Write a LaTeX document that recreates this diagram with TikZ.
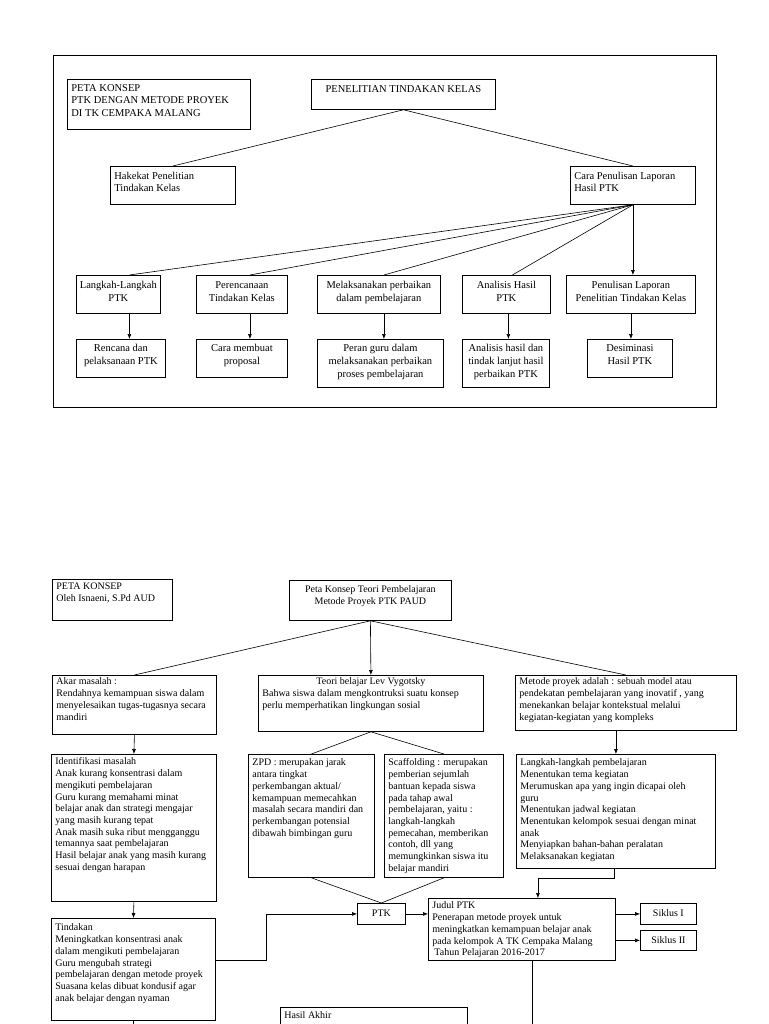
\documentclass[tikz,border=0pt]{standalone}
\usepackage{fontspec}
\setmainfont{Liberation Serif}
\usetikzlibrary{arrows.meta}
\hyphenpenalty=10000
\exhyphenpenalty=10000
\newcommand{\boxtext}[4]{\parbox[t][#2][t]{#1}{\rule{0pt}{#3}#4}}

\begin{document}
\begin{tikzpicture}[x=1pt, y=-1pt,
    box/.style={draw, line width=0.8pt, anchor=north west, inner xsep=4pt, inner ysep=0pt},
    cbox/.style={box, inner xsep=2pt},
    toptext/.style={font=\fontsize{10.5}{12.5}\selectfont},
    rowtext/.style={font=\fontsize{10.5}{13}\selectfont},
    bottext/.style={font=\fontsize{10}{11.7}\selectfont},
    conn/.style={line width=0.6pt},
    arr/.style={conn, -{Latex[length=5pt,width=4pt]}}]
  \useasboundingbox (0,0) rectangle (768,1024);
  \fill[white] (0,0) rectangle (768,1024);
  \clip (0,0) rectangle (768,1024);
  \coordinate (bottom) at (0,1030);

  % peta konsep 1
  \draw[line width=1pt] (53,56) rectangle (716,407);
  \node[box, toptext] (peta) at (67,79) {\boxtext{175pt}{50pt}{12pt}{PETA KONSEP\\PTK DENGAN METODE PROYEK\\DI TK CEMPAKA MALANG}};
  \node[cbox, toptext] (ptk) at (311,79) {\boxtext{180pt}{30pt}{13pt}{\centering PENELITIAN TINDAKAN KELAS}};
  \node[box, toptext] (hakekat) at (110,166) {\boxtext{117pt}{38pt}{13pt}{Hakekat Penelitian\\Tindakan Kelas}};
  \node[box, toptext] (cara) at (570,166) {\boxtext{117pt}{38pt}{13pt}{Cara Penulisan Laporan\\Hasil PTK}};

  \node[cbox, rowtext] (langkah) at (76,275) {\boxtext{80pt}{38pt}{13.5pt}{\centering Langkah-Langkah\\PTK}};
  \node[cbox, rowtext] (perenc) at (196,275) {\boxtext{87pt}{38pt}{13.5pt}{\centering Perencanaan\\Tindakan Kelas}};
  \node[cbox, rowtext] (laksana) at (317,275) {\boxtext{119pt}{38pt}{13.5pt}{\centering Melaksanakan perbaikan\\dalam pembelajaran}};
  \node[cbox, rowtext] (analisis) at (462,275) {\boxtext{84pt}{38pt}{13.5pt}{\centering Analisis Hasil\\PTK}};
  \node[cbox, rowtext] (tulis) at (566,275) {\boxtext{125pt}{38pt}{13.5pt}{\centering Penulisan Laporan\\Penelitian Tindakan Kelas}};

  \node[cbox, rowtext] (rencana) at (76,339) {\boxtext{85pt}{38pt}{12.5pt}{\centering Rencana dan\\pelaksanaan PTK}};
  \node[cbox, rowtext] (proposal) at (196,339) {\boxtext{87pt}{38pt}{12.5pt}{\centering Cara membuat\\proposal}};
  \node[cbox, rowtext] (peran) at (317,339) {\boxtext{122pt}{48pt}{12.5pt}{\centering Peran guru dalam\\melaksanakan perbaikan\\proses pembelajaran}};
  \node[cbox, rowtext] (lanjut) at (462,339) {\boxtext{83pt}{48pt}{12.5pt}{\centering Analisis hasil dan\\tindak lanjut hasil\\perbaikan PTK}};
  \node[cbox, rowtext] (desim) at (587,339) {\boxtext{81pt}{38pt}{12.5pt}{\centering Desiminasi\\Hasil PTK}};

  \draw[conn] (ptk.south) -- (hakekat.north);
  \draw[conn] (ptk.south) -- (cara.north);
  \draw[conn] (cara.south) -- ([xshift=11pt]langkah.north);
  \draw[conn] (cara.south) -- ([xshift=8pt]perenc.north);
  \draw[conn] (cara.south) -- ([xshift=5pt]laksana.north);
  \draw[conn] (cara.south) -- ([xshift=6pt]analisis.north);
  \draw[arr] (cara.south) -- (cara.south |- tulis.north);
  \draw[arr] ([xshift=11pt]langkah.south) -- ([xshift=11pt]langkah.south |- rencana.north);
  \draw[arr] ([xshift=8pt]perenc.south) -- ([xshift=8pt]perenc.south |- proposal.north);
  \draw[arr] ([xshift=5pt]laksana.south) -- ([xshift=5pt]laksana.south |- peran.north);
  \draw[arr] ([xshift=2pt]analisis.south) -- ([xshift=2pt]analisis.south |- lanjut.north);
  \draw[arr] (tulis.south) -- (tulis.south |- desim.north);

  % peta konsep 2
  \node[box, bottext] (petab) at (52,579) {\boxtext{112pt}{41pt}{10.5pt}{PETA KONSEP\\Oleh Isnaeni, S.Pd AUD}};
  \node[cbox, bottext] (teori) at (289,580) {\boxtext{158pt}{40pt}{12.5pt}{\centering Peta Konsep Teori Pembelajaran\\Metode Proyek PTK PAUD}};
  \node[box, bottext] (akar) at (52,675) {\boxtext{156pt}{59pt}{9.5pt}{Akar masalah :\\Rendahnya kemampuan siswa dalam\\menyelesaikan tugas-tugasnya secara\\mandiri}};
  \node[box, bottext] (vygotsky) at (258,675) {\boxtext{217pt}{56pt}{9.5pt}{\hfill Teori belajar Lev Vygotsky\hfill\null\\Bahwa siswa dalam mengkontruksi suatu konsep\\perlu memperhatikan lingkungan sosial}};
  \node[box, bottext] (metode) at (515,675) {\boxtext{213pt}{55pt}{9.5pt}{Metode proyek adalah : sebuah model atau\\pendekatan pembelajaran yang inovatif , yang\\menekankan belajar kontekstual melalui\\kegiatan-kegiatan yang kompleks}};

  \node[box, bottext] (identifikasi) at (51,754) {\boxtext{157pt}{147pt}{10.5pt}{Identifikasi masalah\\Anak kurang konsentrasi dalam\\mengikuti pembelajaran\\Guru kurang memahami minat\\belajar anak dan strategi mengajar\\yang masih kurang tepat\\Anak masih suka ribut mengganggu\\temannya saat pembelajaran\\Hasil belajar anak yang masih kurang\\sesuai dengan harapan}};
  \node[box, bottext] (zpd) at (248,754) {\boxtext{118pt}{123pt}{11.5pt}{ZPD : merupakan jarak\\antara tingkat\\perkembangan aktual/\\kemampuan memecahkan\\masalah secara mandiri dan\\perkembangan potensial\\dibawah bimbingan guru}};
  \node[box, bottext] (scaffolding) at (384,754) {\boxtext{111pt}{123pt}{11.5pt}{Scaffolding : merupakan\\pemberian sejumlah\\bantuan kepada siswa\\pada tahap awal\\pembelajaran, yaitu :\\langkah-langkah\\pemecahan, memberikan\\contoh, dll yang\\memungkinkan siswa itu\\belajar mandiri}};
  \node[box, bottext] (langkahb) at (516,754) {\boxtext{191pt}{114pt}{11.5pt}{Langkah-langkah pembelajaran\\Menentukan tema kegiatan\\Merumuskan apa yang ingin dicapai oleh\\guru\\Menentukan jadwal kegiatan\\Menentukan kelompok sesuai dengan minat\\anak\\Menyiapkan bahan-bahan peralatan\\Melaksanakan kegiatan}};

  \node[cbox, bottext] (ptkb) at (357,903) {\boxtext{44pt}{21pt}{13.5pt}{\centering PTK}};
  \node[box, bottext] (judul) at (428,898) {\boxtext{179pt}{62pt}{10.5pt}{Judul PTK\\Penerapan metode proyek untuk\\meningkatkan kemampuan belajar anak\\pada kelompok A TK Cempaka Malang\\\hspace*{2pt}Tahun Pelajaran 2016-2017}};
  \node[cbox, bottext] (siklus1) at (640,903) {\boxtext{52pt}{21pt}{13.5pt}{\centering Siklus I}};
  \node[cbox, bottext] (siklus2) at (640,930) {\boxtext{52pt}{20pt}{13pt}{\centering Siklus II}};
  \node[box, bottext] (tindakan) at (51,918) {\boxtext{156pt}{102pt}{12.5pt}{Tindakan\\Meningkatkan konsentrasi anak\\dalam mengikuti pembelajaran\\Guru mengubah strategi\\pembelajaran dengan metode proyek\\Suasana kelas dibuat kondusif agar\\anak belajar dengan nyaman}};
  \node[box, bottext] (hasil) at (280,1007) {\boxtext{179pt}{40pt}{11.5pt}{Hasil Akhir}};

  \draw[conn] (teori.south) -- (akar.north);
  \draw[arr] (teori.south) -- (vygotsky.north);
  \draw[conn] (teori.south) -- (metode.north);
  \draw[arr] (akar.south) -- (identifikasi.north);
  \draw[conn] (vygotsky.south) -- (zpd.north);
  \draw[conn] (vygotsky.south) -- (scaffolding.north);
  \draw[arr] (langkahb.north |- metode.south) -- (langkahb.north);
  \draw[arr] (identifikasi.south) -- (tindakan.north);
  \draw[conn] (zpd.south) -- (ptkb.north);
  \draw[conn] (scaffolding.south) -- (ptkb.north);
  \draw[arr] ([yshift=9pt]tindakan.east) -- ++(50,0) |- (ptkb.west);
  \draw[arr] (ptkb.east) -- (ptkb.east -| judul.west);
  \draw[arr] ([xshift=-2pt]langkahb.south) -- ++(0,9) -| ([xshift=16pt]judul.north);
  \draw[arr] (siklus1.west -| judul.east) -- (siklus1.west);
  \draw[arr] (siklus2.west -| judul.east) -- (siklus2.west);
  \draw[conn] ([xshift=10pt]judul.south) -- ([xshift=10pt]judul.south |- bottom);
  \draw[conn] (tindakan.south) -- (tindakan.south |- bottom);
\end{tikzpicture}
\end{document}
